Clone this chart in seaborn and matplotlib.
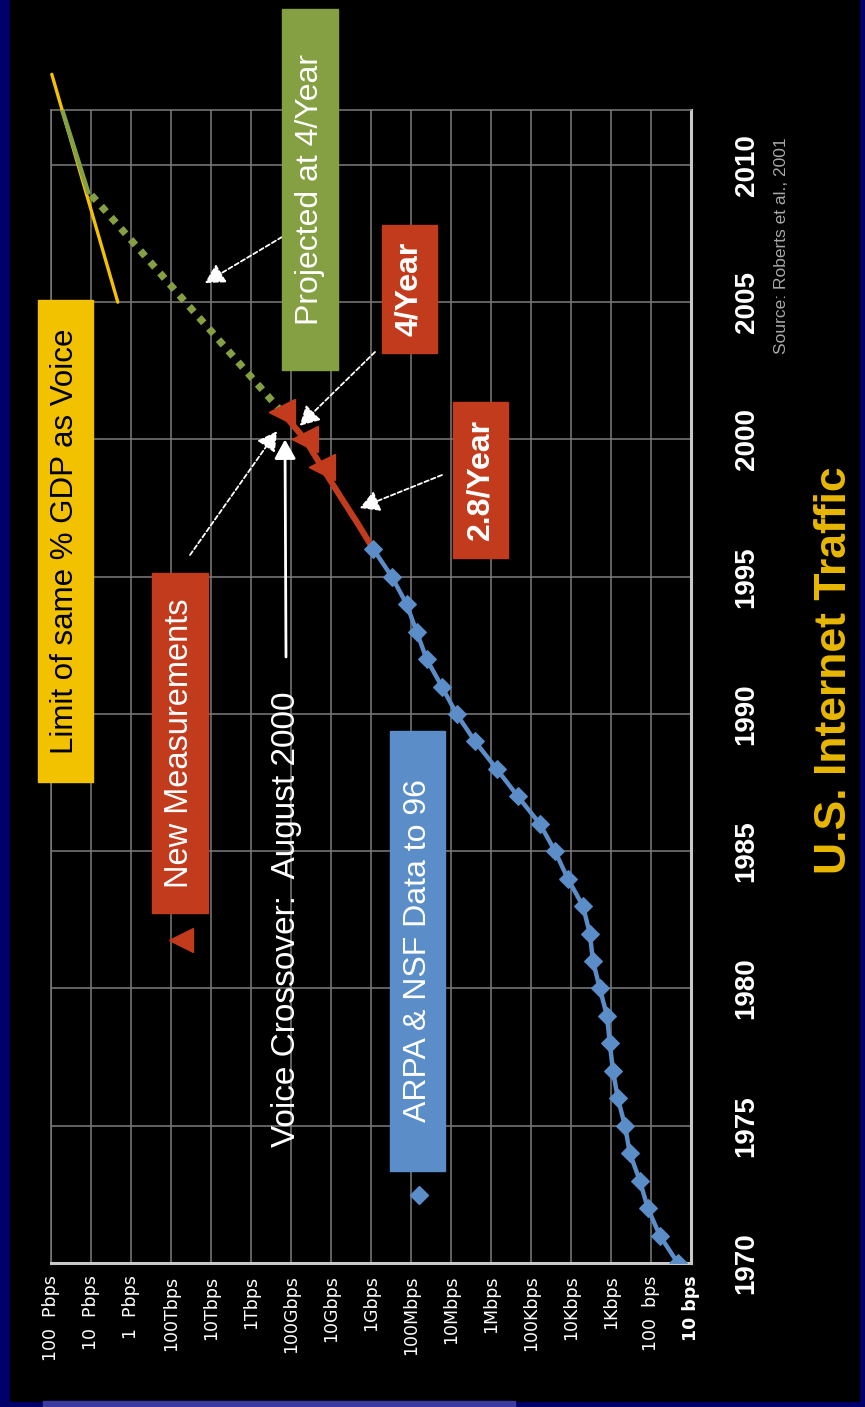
import numpy as np
import pandas as pd
import matplotlib
matplotlib.use("Agg")
import matplotlib.pyplot as plt
from matplotlib.patches import Rectangle
from matplotlib.lines import Line2D
import seaborn as sns

# ---- data (traffic given as log10 of bits per second) ----
arpa_years = [1970, 1971, 1972, 1973, 1974, 1975, 1976, 1977, 1978, 1979,
              1980, 1981, 1982, 1983, 1984, 1985, 1986, 1987, 1988, 1989,
              1990, 1991, 1992, 1993, 1994, 1995, 1996]
arpa_log10 = [1.33, 1.78, 2.08, 2.28, 2.53, 2.65, 2.83, 2.95, 3.03, 3.10,
              3.28, 3.45, 3.53, 3.70, 4.08, 4.40, 4.78, 5.33, 5.86, 6.40,
              6.86, 7.23, 7.61, 7.86, 8.11, 8.48, 8.94]

growth_years = [1996, 1997, 1998, 1999, 2000, 2001]
growth_log10 = [8.94, 9.36, 9.80, 10.23, 10.65, 11.23]

measured_years = [1999, 2000, 2001]
measured_log10 = [10.23, 10.65, 11.23]

proj_years = [2001, 2002, 2003, 2004, 2005, 2006, 2007, 2008, 2009]
proj_log10 = [11.23, 11.83, 12.43, 13.03, 13.64, 14.24, 14.84, 15.44, 16.05]

capped_years = [2009, 2012]
capped_log10 = [16.07, 16.72]

limit_years = [2005, 2013.3]
limit_log10 = [15.33, 16.98]

rate_exponents = list(range(17, 0, -1))
rate_labels = ["100  Pbps", "10  Pbps", "1  Pbps", "100Tbps", "10Tbps", "1Tbps",
               "100Gbps", "10Gbps", "1Gbps", "100Mbps", "10Mbps", "1Mbps",
               "100Kbps", "10Kbps", "1Kbps", "100  bps", "10 bps"]
year_ticks = [1970, 1975, 1980, 1985, 1990, 1995, 2000, 2005, 2010]

# ---- colours ----
NAVY = "#00006c"
BLUE = "#5b8ec8"
RED = "#c23b1c"
GREEN = "#84a042"
YELLOW = "#f2c200"
GRID = "#7c7c7c"

sns.set_style("dark")
plt.rcParams["font.family"] = ["Liberation Sans", "DejaVu Sans"]

W, H = 865, 1407
fig = plt.figure(figsize=(W / 100, H / 100), dpi=100, facecolor=NAVY)


def fx(x):
    return x / W


def fy(y):
    return 1 - y / H


# black slide area and the lighter strip at the bottom edge
fig.add_artist(Rectangle((fx(10), fy(1401)), fx(859) - fx(10), fy(0) - fy(1401),
                         transform=fig.transFigure, color="black", zorder=0))
fig.add_artist(Rectangle((fx(43), fy(1407)), fx(515) - fx(43), fy(1401) - fy(1407),
                         transform=fig.transFigure, color="#3a3aa2", zorder=0))

ax = fig.add_axes([fx(51), fy(1263), fx(691) - fx(51), fy(110) - fy(1263)])
ax.set_facecolor("black")

arpa = pd.DataFrame({"year": arpa_years, "bps": 10.0 ** np.array(arpa_log10)})
growth = pd.DataFrame({"year": growth_years, "bps": 10.0 ** np.array(growth_log10)})
measured = pd.DataFrame({"year": measured_years, "bps": 10.0 ** np.array(measured_log10)})
proj = pd.DataFrame({"year": proj_years, "bps": 10.0 ** np.array(proj_log10)})
capped = pd.DataFrame({"year": capped_years, "bps": 10.0 ** np.array(capped_log10)})
limit = pd.DataFrame({"year": limit_years, "bps": 10.0 ** np.array(limit_log10)})

# voice-equivalent limit line
sns.lineplot(data=limit, x="bps", y="year", sort=False, estimator=None, ax=ax,
             color=YELLOW, lw=2.4, zorder=3, clip_on=False)
# projection at 4x per year (dotted), then capped along the limit
sns.lineplot(data=proj, x="bps", y="year", sort=False, estimator=None, ax=ax,
             color=GREEN, lw=5.2, zorder=4, dashes=False,
             linestyle=(0, (1, 1.05)))
sns.lineplot(data=capped, x="bps", y="year", sort=False, estimator=None, ax=ax,
             color=GREEN, lw=3.2, zorder=4)
# recent growth and new measurements
sns.lineplot(data=growth, x="bps", y="year", sort=False, estimator=None, ax=ax,
             color=RED, lw=4.4, zorder=5)
sns.scatterplot(data=measured, x="bps", y="year", ax=ax, marker="<", s=330,
                color=RED, edgecolor=RED, zorder=6)
# ARPA & NSF history
sns.lineplot(data=arpa, x="bps", y="year", sort=False, estimator=None, ax=ax,
             color=BLUE, lw=3.2, marker="D", markersize=9, markeredgecolor=BLUE,
             zorder=6)

ax.set_xscale("log")
ax.set_xlim(1e17, 1e1)
ax.set_ylim(1970, 2012)
ax.set_xticks([10.0 ** e for e in rate_exponents])
ax.set_xticklabels(rate_labels, rotation=90, ha="center", va="top",
                   family="DejaVu Sans", fontsize=12.5, color="white")
ax.get_xticklabels()[-1].set_fontweight("bold")
ax.xaxis.set_minor_locator(matplotlib.ticker.NullLocator())
ax.yaxis.tick_right()
ax.set_yticks(year_ticks)
ax.set_yticklabels([str(y) for y in year_ticks], rotation=90, ha="center",
                   va="center", fontsize=20, fontweight="bold", color="white")
ax.tick_params(axis="x", length=0, pad=9)
ax.tick_params(axis="y", length=0, pad=40)
ax.set_xlabel("")
ax.set_ylabel("")
ax.grid(True, which="major", color=GRID, lw=1.1)
for side in ("left", "top"):
    ax.spines[side].set_color(GRID)
    ax.spines[side].set_linewidth(1.1)
for side in ("bottom", "right"):
    ax.spines[side].set_color("#c8c8c8")
    ax.spines[side].set_linewidth(2.2)
ax.spines["right"].set_visible(True)
ax.spines["bottom"].set_visible(True)


# ---- label boxes ----
def box(x0, y0, x1, y1, color, text, tcolor="white", size=23, weight="normal"):
    fig.add_artist(Rectangle((fx(x0), fy(y1)), fx(x1) - fx(x0), fy(y0) - fy(y1),
                             transform=fig.transFigure, color=color, zorder=7))
    fig.text(fx((x0 + x1) / 2), fy((y0 + y1) / 2), text, rotation=90,
             ha="center", va="center", color=tcolor, fontsize=size,
             fontweight=weight, zorder=8)


box(38, 300, 93, 782, YELLOW, "Limit of same % GDP as Voice", tcolor="black", size=22.5)
box(282, 9, 338, 370, GREEN, "Projected at 4/Year", size=23)
box(382, 225, 437, 353, RED, "4/Year", size=23, weight="bold")
box(453, 402, 508, 558, RED, "2.8/Year", size=23, weight="bold")
box(152, 573, 208, 913, RED, "New Measurements", size=23.5)
box(390, 731, 445, 1171, BLUE, "ARPA & NSF Data to 96", size=23)

fig.text(fx(287), fy(919), "Voice Crossover:  August 2000", rotation=90,
         ha="center", va="center", color="white", fontsize=24)

# legend keys
fig.add_artist(Line2D([fx(419)], [fy(1195)], transform=fig.transFigure, marker="D",
                      markersize=9, color=BLUE, lw=0))
fig.add_artist(Line2D([fx(181)], [fy(940)], transform=fig.transFigure, marker="<",
                      markersize=17, color=RED, lw=0))


# ---- pointer arrows (tips in data space, tails in figure pixels) ----
def pointer(tip_log10, tip_year, tail_px, dashed=True):
    ax.annotate("", xy=(10.0 ** tip_log10, tip_year), xycoords="data",
                xytext=(tail_px[0], H - tail_px[1]), textcoords="figure pixels",
                arrowprops=dict(arrowstyle="-|>,head_length=0.9,head_width=0.5",
                                color="white", lw=1.3 if dashed else 2.0,
                                linestyle=(0, (2.5, 1.5)) if dashed else "-",
                                mutation_scale=13, shrinkA=0, shrinkB=0),
                zorder=9, annotation_clip=False)


pointer(13.15, 2005.7, (282, 237))
pointer(10.78, 2000.5, (375, 352))
pointer(9.28, 1997.5, (442, 475))
pointer(11.35, 2000.3, (190, 555))
pointer(11.15, 2000.0, (286, 657), dashed=False)

# ---- title and source ----
fig.text(fx(835), fy(670), "U.S. Internet Traffic", rotation=90, ha="center",
         va="center", color="#e9b800", fontsize=32, fontweight="bold")
fig.text(fx(782), fy(246), "Source: Roberts et al., 2001", rotation=90,
         ha="center", va="center", color="#a8a8a8", fontsize=12.5)

fig.savefig("out.png", dpi=100, facecolor=NAVY)
